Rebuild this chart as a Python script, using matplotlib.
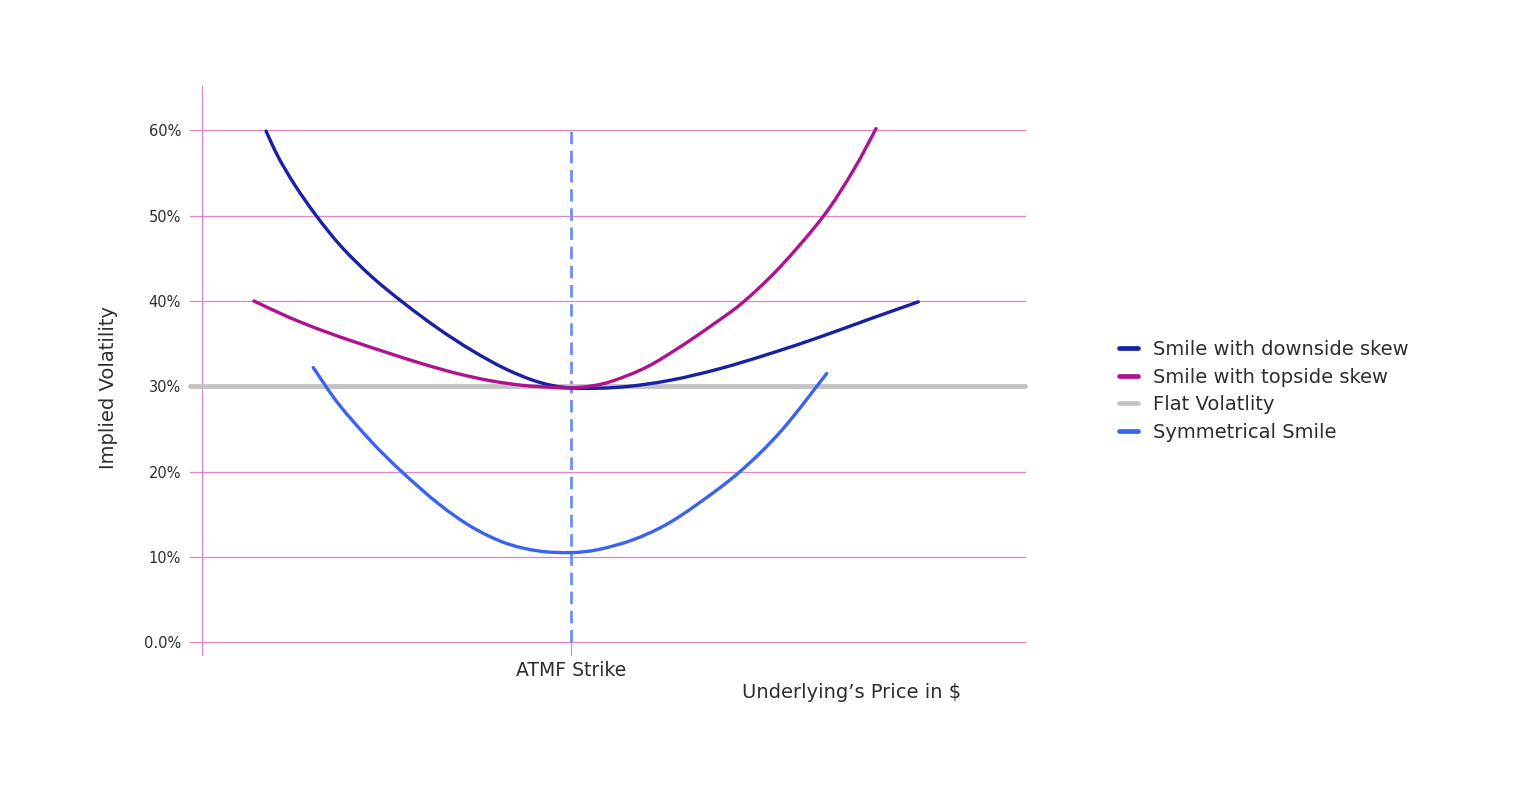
import matplotlib
matplotlib.use("Agg")
import matplotlib.pyplot as plt
from matplotlib.path import Path
from matplotlib.patches import PathPatch
from matplotlib.lines import Line2D

plt.rcParams['font.family'] = ['DejaVu Sans']

# ---- data (price axis in arbitrary units 0..100, vol in %) ----
atmf_x = 44.84

down_x = [7.78, 9.27, 11.30, 13.94, 16.97, 20.62, 24.46, 28.71, 32.77, 36.82, 40.86, 44.84,
          50.79, 56.86, 62.94, 69.02, 75.09, 81.17, 87.04]
down_y = [59.92, 56.87, 53.56, 49.92, 46.33, 42.85, 39.80, 36.76, 34.22, 32.07, 30.51, 29.80,
          29.90, 30.70, 32.07, 33.83, 35.78, 37.90, 39.90]

top_x = [6.30, 10.49, 14.54, 18.59, 22.64, 26.70, 30.74, 34.79, 38.85, 42.89, 44.84,
         47.40, 49.98, 54.03, 58.08, 62.13, 65.77, 70.23, 75.49, 79.14, 81.90]
top_y = [40.00, 38.12, 36.56, 35.19, 33.90, 32.66, 31.56, 30.70, 30.12, 29.85, 29.80,
         30.05, 30.65, 32.25, 34.61, 37.27, 39.88, 43.98, 49.92, 55.31, 60.20]

flat_x = [-1.5, 100.0]
flat_y = [30.0, 30.0]

sym_x = [13.52, 16.56, 20.62, 24.26, 28.71, 32.76, 36.82, 40.86, 44.92, 48.15, 52.21, 56.26,
         60.30, 65.37, 70.44, 75.90]
sym_y = [32.19, 27.97, 23.47, 20.00, 16.25, 13.52, 11.64, 10.70, 10.51, 10.86, 11.95, 13.71,
         16.25, 20.00, 24.84, 31.49]

y_ticks = [0, 10, 20, 30, 40, 50, 60]
y_tick_labels = ["0.0%", "10%", "20%", "30%", "40%", "50%", "60%"]
x_tick_labels = ["ATMF Strike"]

series_labels = ["Smile with downside skew", "Smile with topside skew",
                 "Flat Volatlity", "Symmetrical Smile"]
colors = ["#1820a6", "#b0118f", "#c3c3c3", "#3a64ef"]
grid_color = "#dd86c9"
dash_color = "#6c8df6"
text_color = "#2e2e2e"


def smooth_path(xs, ys):
    """Catmull-Rom spline through the given points, expressed as a cubic Bezier path."""
    pts = list(zip(xs, ys))
    ext = [pts[0]] + pts + [pts[-1]]
    verts = [pts[0]]
    codes = [Path.MOVETO]
    for i in range(1, len(ext) - 2):
        p0, p1, p2, p3 = ext[i - 1], ext[i], ext[i + 1], ext[i + 2]
        c1 = (p1[0] + (p2[0] - p0[0]) / 6.0, p1[1] + (p2[1] - p0[1]) / 6.0)
        c2 = (p2[0] - (p3[0] - p1[0]) / 6.0, p2[1] - (p3[1] - p1[1]) / 6.0)
        verts += [c1, c2, p2]
        codes += [Path.CURVE4] * 3
    return Path(verts, codes)


fig = plt.figure(figsize=(15.19, 7.97), dpi=100)
ax = fig.add_axes([202/1519, 1-655/797, (1025-202)/1519, (655-86)/797])

ax.set_xlim(0, 100)
ax.set_ylim(-1.5, 65.2)

# grid lines
for yv in y_ticks:
    ax.plot([-1.5, 100], [yv, yv], color=grid_color, lw=0.9, zorder=1, clip_on=False)

# dashed ATMF line
ax.plot([atmf_x, atmf_x], [0, 60], color=dash_color, lw=2.0, dashes=(4.5, 2.4), zorder=2)

lw = 2.4
ax.plot(flat_x, flat_y, color=colors[2], lw=3.5, solid_capstyle='round', zorder=3, clip_on=False)
for (xs, ys, c, z) in [(down_x, down_y, colors[0], 4), (top_x, top_y, colors[1], 5),
                       (sym_x, sym_y, colors[3], 4)]:
    patch = PathPatch(smooth_path(xs, ys), facecolor='none', edgecolor=c, lw=lw,
                      capstyle='round', joinstyle='round', zorder=z, transform=ax.transData)
    ax.add_patch(patch)

for s in ["top", "right", "bottom"]:
    ax.spines[s].set_visible(False)
ax.spines["left"].set_color(grid_color)
ax.spines["left"].set_linewidth(0.9)

ax.set_yticks(y_ticks)
ax.set_yticklabels(y_tick_labels)
ax.tick_params(axis='y', length=0, pad=15, labelsize=10.5, labelcolor=text_color)
ax.set_xticks([atmf_x])
ax.set_xticklabels(x_tick_labels)
ax.tick_params(axis='x', direction='in', length=9.3, width=0.9, color=grid_color, pad=4,
               labelsize=13.5, labelcolor=text_color)

fig.text(108/1519, 1-388/797, "Implied Volatility", rotation=90, ha='center', va='center',
         fontsize=14, color=text_color)
fig.text(852/1519, 1-693/797, "Underlying\u2019s Price in $", ha='center', va='center',
         fontsize=14, color=text_color)

handles = [Line2D([], [], color=c, lw=3.4, solid_capstyle='round') for c in colors]
leg = fig.legend(handles, series_labels, loc='center left',
                 bbox_to_anchor=(1101/1519, 1-391/797), frameon=False,
                 fontsize=14, handlelength=1.0, handletextpad=0.75, labelspacing=0.44,
                 labelcolor=text_color)

fig.savefig("out.png", dpi=100)
